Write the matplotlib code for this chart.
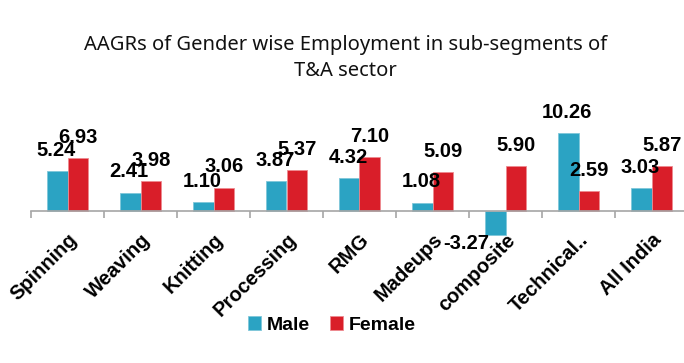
import matplotlib
matplotlib.use("Agg")
import matplotlib.pyplot as plt
import numpy as np

# AAGR data
segments = ['Spinning', 'Weaving', 'Knitting', 'Processing', 'RMG',
            'Madeups', 'composite', 'Technical..', 'All India']
male = [5.24, 2.41, 1.10, 3.87, 4.32, 1.08, -3.27, 10.26, 3.03]
female = [6.93, 3.98, 3.06, 5.37, 7.10, 5.09, 5.90, 2.59, 5.87]

male_color = '#2BA3C3'
female_color = '#D91E29'

plt.rcParams['font.family'] = ['Liberation Sans', 'DejaVu Sans']

fig = plt.figure(figsize=(6.84, 3.63), dpi=100)
fig.patch.set_facecolor('white')
# axes placed so that 0 sits at y=211px, categories 73px wide starting x=31px
ax = fig.add_axes([31 / 684, 1 - 241 / 363, 657 / 684, 121 / 363])
ax.set_facecolor('none')

x = np.arange(len(segments))
w = 0.28
ax.bar(x - w / 2, male, w, color=male_color, edgecolor='#7FC7DA', linewidth=0.6, label='Male')
ax.bar(x + w / 2, female, w, color=female_color, edgecolor='#EE8A90', linewidth=0.6, label='Female')

lab_kw = dict(fontsize=14.5, fontweight='bold', color='black')
for i, (m, f) in enumerate(zip(male, female)):
    if m >= 0:
        ax.annotate(f'{m:.2f}', (i - w / 2, m), xytext=(-1, 8), textcoords='offset points',
                    ha='center', va='bottom', **lab_kw)
    else:
        ax.annotate(f'{m:.2f}', (i - w / 2, m), xytext=(-21, 1), textcoords='offset points',
                    ha='center', va='top', **lab_kw)
    ax.annotate(f'{f:.2f}', (i + w / 2, f), xytext=(0, 8), textcoords='offset points',
                ha='center', va='bottom', **lab_kw)

ax.set_xlim(-0.5, len(segments) - 0.5)
ax.set_ylim(-4, 12)
for s in ['top', 'right', 'left']:
    ax.spines[s].set_visible(False)
ax.spines['bottom'].set_position(('data', 0))
ax.spines['bottom'].set_color('#A6A6A6')
ax.spines['bottom'].set_linewidth(1.2)
ax.set_yticks([])

ax.set_xticks(x)
ax.set_xticks(np.arange(-0.5, len(segments), 1), minor=True)
ax.tick_params(axis='x', which='major', length=0, pad=14)
ax.tick_params(axis='x', which='minor', length=5, color='#A6A6A6', width=1.2)
ax.set_xticklabels(segments, rotation=45, ha='right', rotation_mode='anchor',
                   fontsize=14.5, fontweight='bold')

fig.text(0.505, 1 - 58 / 363, 'AAGRs of Gender wise Employment in sub-segments of\nT&A sector',
         ha='center', va='center', fontsize=14.5, family=['Noto Sans', 'DejaVu Sans'],
         linespacing=1.4, color='#111111')

fig.legend(loc='center', bbox_to_anchor=(332 / 684, 1 - 325 / 363), ncol=2, frameon=False,
           prop=dict(size=14, weight='bold'), handlelength=0.7, handleheight=0.7,
           handletextpad=0.3, columnspacing=1.0)

fig.savefig('out.png', dpi=100)
